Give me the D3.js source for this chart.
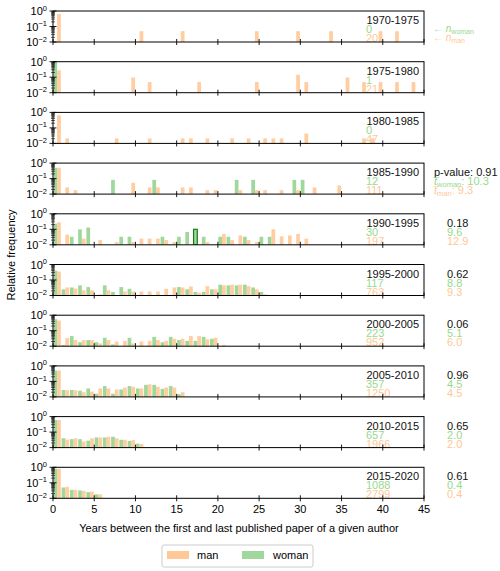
<!DOCTYPE html>
<html>
<head>
<meta charset="utf-8">
<script src="https://cdn.jsdelivr.net/npm/d3@7"></script>
<style>
body { margin: 0; background: #fff; }
text { font-family: "Liberation Sans", Arial, sans-serif; }
</style>
</head>
<body>
<svg id="chart" width="500" height="571"></svg>
<script>
// periods and per-period stats
var periods = ["1970-1975","1975-1980","1980-1985","1985-1990","1990-1995","1995-2000","2000-2005","2005-2010","2010-2015","2015-2020"];
var nWoman = [0, 1, 0, 12, 30, 117, 223, 357, 657, 1088];
var nMan = [20, 21, 47, 111, 197, 763, 952, 1250, 1966, 2799];
var pValues = [null, null, null, "0.91", "0.18", "0.62", "0.06", "0.96", "0.65", "0.61"];
var tWoman = [null, null, null, "10.3", "9.6", "8.8", "5.1", "4.5", "2.0", "0.4"];
var tMan = [null, null, null, "9.3", "12.9", "9.3", "6.0", "4.5", "2.0", "0.4"];

// relative frequency per year, [year, value]
var womanFreq = [
  [],
  [[0, 1.0]],
  [],
  [[0,0.5],[7,0.083],[12,0.083],[22,0.083],[24,0.083],[29,0.083],[30,0.083]],
  [[0,0.23],[2,0.033],[3,0.1],[4,0.13],[8,0.033],[9,0.033],[13,0.033],[15,0.033],[16,0.067],[17,0.1],[18,0.033],[20,0.033],[21,0.033],[23,0.033],[25,0.033],[26,0.033]],
  [[0,0.4],[1,0.025],[2,0.033],[3,0.045],[4,0.035],[6,0.045],[7,0.017],[8,0.035],[9,0.027],[15,0.035],[16,0.025],[17,0.017],[18,0.017],[19,0.025],[20,0.05],[21,0.045],[22,0.045],[23,0.05],[24,0.033],[25,0.017]],
  [[0,0.55],[1,0.012],[2,0.045],[3,0.018],[4,0.025],[5,0.018],[6,0.035],[7,0.013],[9,0.035],[12,0.04],[13,0.018],[14,0.04],[15,0.025],[16,0.022],[17,0.022],[18,0.04],[19,0.03]],
  [[0,0.5],[1,0.028],[2,0.028],[3,0.025],[4,0.035],[5,0.016],[6,0.05],[7,0.016],[8,0.03],[9,0.05],[10,0.035],[11,0.06],[12,0.06],[13,0.033],[14,0.05],[15,0.015]],
  [[0,0.6],[1,0.04],[2,0.035],[3,0.035],[4,0.028],[5,0.045],[6,0.045],[7,0.05],[8,0.032],[9,0.027],[10,0.018]],
  [[0,0.8],[1,0.05],[2,0.035],[3,0.032],[4,0.025],[5,0.018]]
];
var manFreq = [
  [[0,0.65],[10,0.05],[15,0.05],[24,0.05],[29,0.05],[33,0.05],[39,0.05],[41,0.05]],
  [[0,0.28],[9,0.095],[11,0.048],[17,0.048],[24,0.048],[29,0.143],[30,0.048],[35,0.095],[37,0.048],[39,0.048],[41,0.048],[43,0.048]],
  [[0,0.65],[1,0.021],[7,0.021],[11,0.021],[15,0.021],[16,0.021],[18,0.021],[21,0.021],[23,0.021],[25,0.021],[26,0.021],[27,0.021],[30,0.043],[37,0.021],[38,0.021]],
  [[0,0.5],[1,0.027],[2,0.018],[9,0.054],[11,0.027],[12,0.027],[15,0.027],[16,0.027],[18,0.018],[19,0.018],[22,0.018],[24,0.018],[25,0.018],[27,0.018],[29,0.018],[31,0.027],[34,0.036]],
  [[0,0.28],[1,0.045],[3,0.025],[5,0.02],[7,0.015],[9,0.015],[10,0.025],[11,0.025],[12,0.025],[13,0.02],[14,0.015],[18,0.015],[20,0.05],[21,0.02],[22,0.04],[23,0.02],[24,0.015],[26,0.1],[27,0.035],[28,0.04],[29,0.05],[30,0.025]],
  [[0,0.35],[1,0.033],[2,0.028],[3,0.022],[4,0.022],[5,0.012],[6,0.022],[8,0.018],[9,0.018],[10,0.018],[11,0.018],[12,0.018],[13,0.027],[14,0.033],[15,0.033],[16,0.038],[17,0.015],[18,0.04],[19,0.025],[20,0.045],[21,0.05],[22,0.05],[23,0.04],[24,0.025],[25,0.012]],
  [[0,0.45],[1,0.033],[2,0.025],[3,0.025],[4,0.025],[5,0.015],[6,0.025],[7,0.02],[8,0.022],[9,0.015],[10,0.02],[11,0.022],[12,0.025],[13,0.022],[14,0.03],[15,0.03],[16,0.045],[17,0.045],[18,0.028],[19,0.035],[20,0.012]],
  [[0,0.5],[1,0.027],[2,0.027],[3,0.02],[4,0.022],[5,0.035],[6,0.035],[7,0.03],[8,0.04],[9,0.045],[10,0.035],[11,0.065],[12,0.045],[13,0.04],[14,0.04],[15,0.02]],
  [[0,0.6],[1,0.033],[2,0.04],[3,0.025],[4,0.04],[5,0.045],[6,0.05],[7,0.04],[8,0.032],[9,0.03],[10,0.017]],
  [[0,0.8],[1,0.055],[2,0.035],[3,0.03],[4,0.027],[5,0.018]]
];
var highlight = [4, 17]; // outlined woman bar (panel, year)
var xTicks = [0,5,10,15,20,25,30,35,40,45];
var yTicks = [1e-2, 1e-1, 1];

var manColor = "#ffc896", womanColor = "#9fd89a";
var manText = "#ffc896", womanText = "#98d98e";

var svg = d3.select("#chart");
var left = 53, right = 424, top0 = 11, step = 50.7, ph = 31;

var x = d3.scaleLinear().domain([0, 45]).range([left, right]);

periods.forEach(function(p, i) {
  var top = top0 + i * step;
  var y = d3.scaleLog().domain([1e-2, 1]).range([top + ph, top]).clamp(true);
  var g = svg.append("g");
  var clipId = "c" + i;
  svg.append("clipPath").attr("id", clipId).append("rect")
      .attr("x", left).attr("y", top).attr("width", right - left).attr("height", ph);

  // in-panel texts (under the bars, as in the reference)
  g.append("text").attr("x", 419).attr("y", top + 13).attr("text-anchor", "end")
      .attr("font-size", 11).attr("fill", "#111").text(p);
  g.append("text").attr("x", 366).attr("y", top + 22).attr("font-size", 11)
      .attr("fill", womanText).text(nWoman[i]);
  g.append("text").attr("x", 366).attr("y", top + 31).attr("font-size", 11)
      .attr("fill", manText).text(nMan[i]);

  var bars = g.append("g").attr("clip-path", "url(#" + clipId + ")");
  bars.selectAll(".w").data(womanFreq[i]).enter().append("rect")
      .attr("x", function(d) { return x(d[0] + 0.05); })
      .attr("width", x(0.45) - x(0))
      .attr("y", function(d) { return y(d[1]); })
      .attr("height", function(d) { return top + ph - y(d[1]); })
      .attr("fill", womanColor)
      .attr("stroke", function(d) { return (highlight[0] === i && highlight[1] === d[0]) ? "#1a7a1a" : "none"; })
      .attr("stroke-width", 1.2);
  bars.selectAll(".m").data(manFreq[i]).enter().append("rect")
      .attr("x", function(d) { return x(d[0] + 0.5); })
      .attr("width", x(0.45) - x(0))
      .attr("y", function(d) { return y(d[1]); })
      .attr("height", function(d) { return top + ph - y(d[1]); })
      .attr("fill", manColor)
      .attr("opacity", 0.9);

  // frame
  g.append("rect").attr("x", left).attr("y", top).attr("width", right - left).attr("height", ph)
      .attr("fill", "none").attr("stroke", "#000").attr("stroke-width", 1);

  // x ticks crossing bottom spine
  g.selectAll(".xt").data(xTicks).enter().append("line")
      .attr("x1", function(d) { return x(d); }).attr("x2", function(d) { return x(d); })
      .attr("y1", top + ph - 3).attr("y2", top + ph + 3)
      .attr("stroke", "#000").attr("stroke-width", 0.9);

  // y ticks, major and minor
  var minor = [];
  [1e-2, 1e-1].forEach(function(b) { for (var k = 2; k <= 9; k++) minor.push(b * k); });
  g.selectAll(".ym").data(minor).enter().append("line")
      .attr("x1", left - 2).attr("x2", left + 2)
      .attr("y1", function(d) { return y(d); }).attr("y2", function(d) { return y(d); })
      .attr("stroke", "#000").attr("stroke-width", 0.6);
  g.selectAll(".yt").data(yTicks).enter().append("line")
      .attr("x1", left - 3.5).attr("x2", left + 3.5)
      .attr("y1", function(d) { return y(d); }).attr("y2", function(d) { return y(d); })
      .attr("stroke", "#000").attr("stroke-width", 0.9);
  var yl = g.selectAll(".yl").data(yTicks).enter().append("text")
      .attr("x", left - 6).attr("y", function(d) { return y(d) + 4; })
      .attr("text-anchor", "end").attr("font-size", 11).attr("fill", "#000");
  yl.append("tspan").text("10");
  yl.append("tspan").attr("dy", -4.5).attr("font-size", 7.5)
      .text(function(d) { var e = Math.round(Math.log10(d)); return e < 0 ? "\u2212" + (-e) : e; });

  // right column
  if (pValues[i] !== null) {
    if (i === 3) {
      g.append("text").attr("x", 434).attr("y", top + 13).attr("font-size", 11).attr("fill", "#111")
          .text("p-value: " + pValues[i]);
      var tw = g.append("text").attr("x", 434).attr("y", top + 22).attr("font-size", 11).attr("fill", womanText);
      tw.append("tspan").attr("font-style", "italic").text("t\u0305");
      tw.append("tspan").attr("font-size", 7.5).attr("dy", 2).text("woman");
      tw.append("tspan").attr("dy", -2).text(": " + tWoman[i]);
      var tm = g.append("text").attr("x", 434).attr("y", top + 31).attr("font-size", 11).attr("fill", manText);
      tm.append("tspan").attr("font-style", "italic").text("t\u0305");
      tm.append("tspan").attr("font-size", 7.5).attr("dy", 2).text("man");
      tm.append("tspan").attr("dy", -2).text(": " + tMan[i]);
    } else {
      g.append("text").attr("x", 447).attr("y", top + 13).attr("font-size", 11).attr("fill", "#111").text(pValues[i]);
      g.append("text").attr("x", 447).attr("y", top + 22).attr("font-size", 11).attr("fill", womanText).text(tWoman[i]);
      g.append("text").attr("x", 447).attr("y", top + 31).attr("font-size", 11).attr("fill", manText).text(tMan[i]);
    }
  }
  if (i === 0) {
    var a1 = g.append("text").attr("x", 433).attr("y", top + 21).attr("font-size", 10).attr("fill", womanText);
    a1.append("tspan").text("\u2190 ");
    a1.append("tspan").attr("font-style", "italic").text("n");
    a1.append("tspan").attr("font-size", 7).attr("dy", 2).text("woman");
    var a2 = g.append("text").attr("x", 433).attr("y", top + 30).attr("font-size", 10).attr("fill", manText);
    a2.append("tspan").text("\u2190 ");
    a2.append("tspan").attr("font-style", "italic").text("n");
    a2.append("tspan").attr("font-size", 7).attr("dy", 2).text("man");
  }
  if (i === periods.length - 1) {
    g.selectAll(".xl").data(xTicks).enter().append("text")
        .attr("x", function(d) { return x(d); }).attr("y", top + ph + 15)
        .attr("text-anchor", "middle").attr("font-size", 11).text(function(d) { return d; });
  }
});

svg.append("text").attr("x", 239).attr("y", 532).attr("text-anchor", "middle")
    .attr("font-size", 11).text("Years between the first and last published paper of a given author");
svg.append("text").attr("transform", "translate(15,255)rotate(-90)").attr("text-anchor", "middle")
    .attr("font-size", 11).text("Relative frequency");

// legend
var lg = svg.append("g");
lg.append("rect").attr("x", 162).attr("y", 545).attr("width", 151).attr("height", 22).attr("rx", 2)
    .attr("fill", "#fff").attr("stroke", "#ccc");
lg.append("rect").attr("x", 167).attr("y", 551).attr("width", 22).attr("height", 8).attr("fill", manColor);
lg.append("text").attr("x", 197).attr("y", 559).attr("font-size", 11).text("man");
lg.append("rect").attr("x", 242).attr("y", 551).attr("width", 22).attr("height", 8).attr("fill", womanColor);
lg.append("text").attr("x", 273).attr("y", 559).attr("font-size", 11).text("woman");
</script>
</body>
</html>
